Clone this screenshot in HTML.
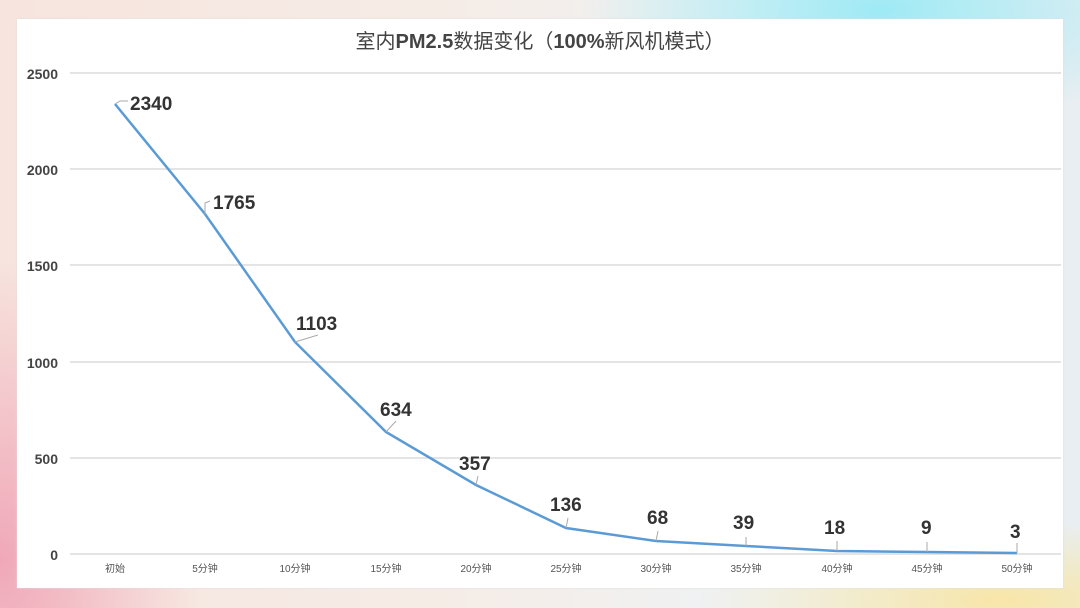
<!DOCTYPE html>
<html><head><meta charset="utf-8"><style>
html,body{margin:0;padding:0;width:1080px;height:608px;overflow:hidden}
body{background:
radial-gradient(ellipse 300px 120px at 880px 10px,#9eeaf5 0%,rgba(158,234,245,0) 100%),
radial-gradient(ellipse 300px 80px at 1000px 600px,#f8e6a8 0%,rgba(248,230,168,0) 100%),
radial-gradient(ellipse 200px 300px at 0px 560px,#f0a8b8 0%,rgba(240,168,184,0) 100%),
linear-gradient(90deg,#f7e4de 0%,#f6ece6 40%,#eef2f4 70%,#e8eef2 100%);
font-family:"Liberation Sans","Noto Sans CJK SC",sans-serif}
#panel{position:absolute;left:17px;top:19px;width:1046px;height:569px;background:#fff;box-shadow:0 0 2px #ddd}
</style></head><body>
<div id="panel"></div>
<svg width="1080" height="608" style="position:absolute;left:0;top:0" font-family="Liberation Sans, Noto Sans CJK SC, sans-serif">
<text x="540" y="48" text-anchor="middle" font-size="20" fill="#444">室内<tspan font-weight="bold">PM2.5</tspan>数据变化（<tspan font-weight="bold">100%</tspan>新风机模式）</text>
<g stroke="#dcdcdc" stroke-width="1.5">
<line x1="70" x2="1061" y1="73" y2="73"/><line x1="70" x2="1061" y1="169" y2="169"/>
<line x1="70" x2="1061" y1="265" y2="265"/><line x1="70" x2="1061" y1="362" y2="362"/>
<line x1="70" x2="1061" y1="458" y2="458"/><line x1="70" x2="1061" y1="554" y2="554"/>
</g>
<g font-size="14" font-weight="bold" fill="#444" text-anchor="end">
<text x="58" y="79">2500</text><text x="58" y="175">2000</text><text x="58" y="271">1500</text>
<text x="58" y="368">1000</text><text x="58" y="464">500</text><text x="58" y="560">0</text>
</g>
<g font-size="10" fill="#555" text-anchor="middle">
<text x="115" y="572">初始</text><text x="205" y="572">5分钟</text><text x="295" y="572">10分钟</text>
<text x="386" y="572">15分钟</text><text x="476" y="572">20分钟</text><text x="566" y="572">25分钟</text>
<text x="656" y="572">30分钟</text><text x="746" y="572">35分钟</text><text x="837" y="572">40分钟</text>
<text x="927" y="572">45分钟</text><text x="1017" y="572">50分钟</text>
</g>
<polyline fill="none" stroke="#5b9bd5" stroke-width="2.5" points="115,104 205,214 295,342 386,432 476,485 566,528 656,541 746,546 837,551 927,552 1017,553"/>
<g stroke="#aaa" stroke-width="1" fill="none">
<polyline points="115,104 120,101 128,101"/>
<polyline points="205,214 205,203 210,201"/>
<polyline points="295,342 318,335"/>
<line x1="386" y1="432" x2="396" y2="421"/>
<line x1="476" y1="485" x2="478" y2="476"/>
<line x1="566" y1="528" x2="568" y2="518"/>
<line x1="656" y1="541" x2="658" y2="531"/>
<line x1="746" y1="546" x2="746" y2="537"/>
<line x1="837" y1="551" x2="837" y2="541"/>
<line x1="927" y1="552" x2="927" y2="542"/>
<line x1="1017" y1="553" x2="1017" y2="543"/>
</g>
<g font-size="19" font-weight="bold" fill="#333">
<text x="130" y="110">2340</text><text x="213" y="209">1765</text>
<text x="296" y="330">1103</text><text x="380" y="416">634</text>
<text x="459" y="470">357</text><text x="550" y="511">136</text>
<text x="647" y="524">68</text><text x="733" y="529">39</text>
<text x="824" y="534">18</text><text x="921" y="534">9</text><text x="1010" y="538">3</text>
</g>
<text x="16" y="586" font-size="11" fill="#fff" opacity="0.85">由小稻@知鹏说IL</text>
</svg>
</body></html>
